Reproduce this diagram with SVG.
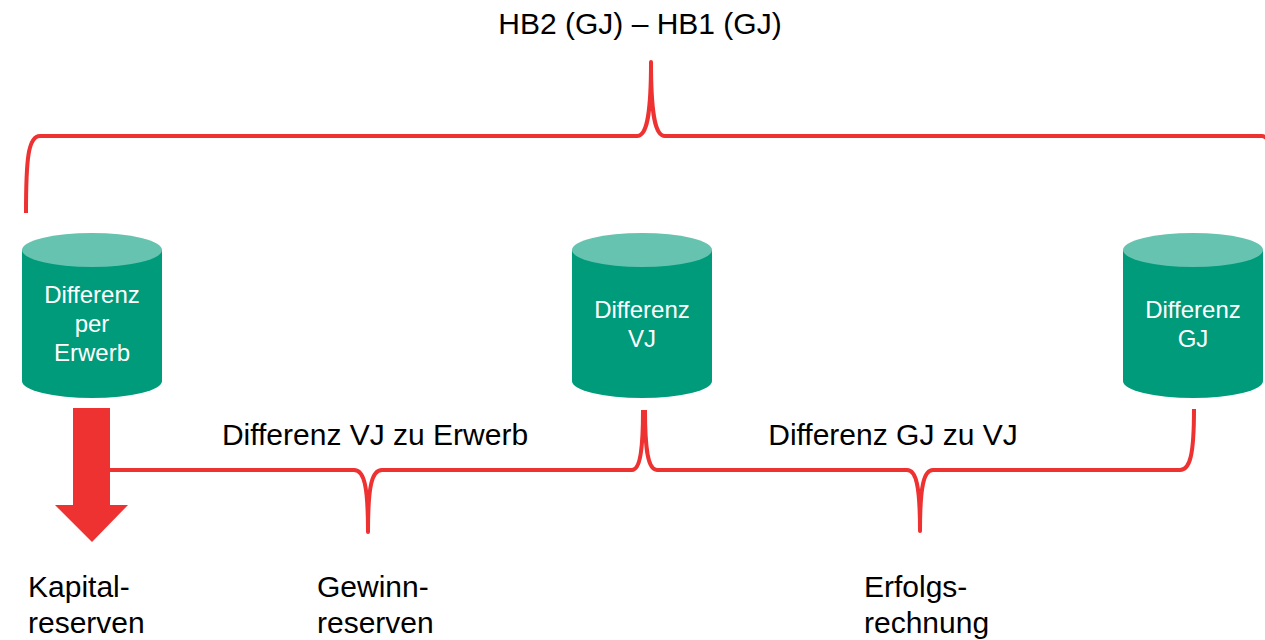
<svg xmlns="http://www.w3.org/2000/svg" width="1265" height="640" viewBox="0 0 1265 640">
  <style>
    .body { fill: #009B7B; }
    .top { fill: #66C3AF; }
    .ctext { font-family: "Liberation Sans", Arial, sans-serif; font-size: 24px; fill: #FFFFFF; text-anchor: middle; }
    .label { font-family: "Liberation Sans", Arial, sans-serif; font-size: 30px; fill: #000000; }
    .blabel { font-family: "Liberation Sans", Arial, sans-serif; font-size: 30px; fill: #000000; }
    .brace { fill: none; stroke: #EE3131; stroke-width: 4; stroke-linejoin: round; stroke-linecap: butt; }
    .arrow { fill: #EE3131; }
  </style>
  <rect width="1265" height="640" fill="#FFFFFF"/>

  <text id="title" class="label" x="640" y="34" text-anchor="middle">HB2 (GJ) – HB1 (GJ)</text>

  <g id="connectors">
    <path id="brace-top" class="brace" d="M 26 213 C 26 160 28 136 40 136 L 637 136 C 647 136 651 115 651 62 C 651 115 655 136 665 136 L 1262 136 C 1270 136 1274 150 1274 213"/>
    <path id="brace-vj-erwerb" class="brace" d="M 110 470 L 354 470 C 364 470 368 485 368 532 C 368 485 372 470 382 470 L 632 470 C 640 470 643 450 643 410"/>
    <path id="brace-gj-vj" class="brace" d="M 645 410 C 645 450 648 470 657 470 L 907 470 C 916 470 920 485 920 531 C 920 485 924 470 933 470 L 1180 470 C 1190 470 1194 455 1194 409"/>
    <polygon id="arrow-kapital" class="arrow" points="73,408 110,408 110,505 128,505 92,542 55,505 73,505"/>
  </g>

  <g id="node-erwerb">
    <path class="body" d="M 22 250 L 22 381 A 70 17 0 0 0 162 381 L 162 250 Z"/>
    <ellipse class="top" cx="92" cy="250" rx="70" ry="17"/>
    <text class="ctext" x="92" y="303">Differenz</text>
    <text class="ctext" x="92" y="332">per</text>
    <text class="ctext" x="92" y="361">Erwerb</text>
  </g>

  <g id="node-vj">
    <path class="body" d="M 572 250 L 572 381 A 70 17 0 0 0 712 381 L 712 250 Z"/>
    <ellipse class="top" cx="642" cy="250" rx="70" ry="17"/>
    <text class="ctext" x="642" y="318">Differenz</text>
    <text class="ctext" x="642" y="347">VJ</text>
  </g>

  <g id="node-gj">
    <path class="body" d="M 1123 250 L 1123 381 A 70 17 0 0 0 1263 381 L 1263 250 Z"/>
    <ellipse class="top" cx="1193" cy="250" rx="70" ry="17"/>
    <text class="ctext" x="1193" y="318">Differenz</text>
    <text class="ctext" x="1193" y="347">GJ</text>
  </g>

  <text id="label-vj-erwerb" class="label" x="375" y="445" text-anchor="middle">Differenz VJ zu Erwerb</text>
  <text id="label-gj-vj" class="label" x="893" y="445" text-anchor="middle">Differenz GJ zu VJ</text>

  <g id="node-kapitalreserven">
    <text class="blabel" x="28" y="597">Kapital-</text>
    <text class="blabel" x="28" y="633">reserven</text>
  </g>
  <g id="node-gewinnreserven">
    <text class="blabel" x="317" y="597">Gewinn-</text>
    <text class="blabel" x="317" y="633">reserven</text>
  </g>
  <g id="node-erfolgsrechnung">
    <text class="blabel" x="864" y="597">Erfolgs-</text>
    <text class="blabel" x="864" y="633">rechnung</text>
  </g>
</svg>
